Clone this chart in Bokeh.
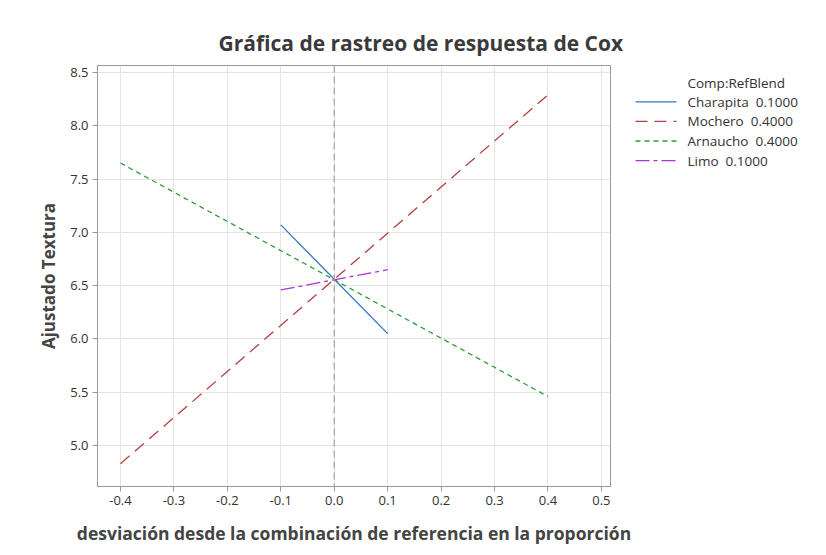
from bokeh.plotting import figure
from bokeh.models import FixedTicker, NumeralTickFormatter, Span, Range1d
from bokeh.layouts import row
from bokeh.core.properties import value
from bokeh.embed import file_html
from bokeh.resources import INLINE

# ---- data ----
x_wide = [-0.4, 0.0, 0.4]
x_narrow = [-0.1, 0.0, 0.1]
charapita = [7.07, 6.56, 6.05]
mochero = [4.83, 6.56, 8.29]
arnaucho = [7.65, 6.555, 5.46]
limo = [6.46, 6.555, 6.65]
legend_title = "Comp:RefBlend"
labels = ["Charapita  0.1000", "Mochero  0.4000", "Arnaucho  0.4000", "Limo  0.1000"]
x_ticks = [-0.4, -0.3, -0.2, -0.1, 0.0, 0.1, 0.2, 0.3, 0.4, 0.5]
y_ticks = [5.0, 5.5, 6.0, 6.5, 7.0, 7.5, 8.0, 8.5]

FONT = "Open Sans"
TXT = "#333333"
colors = ["#3478c6", "#b5403f", "#2e9e3a", "#a735d6"]
dashes = ["solid", "12 7", "5 4", "14 4 4 4"]

H = 547
TOP, BOTTOM = 65, 60
p = figure(width=634, height=H, output_backend="svg", toolbar_location=None,
           x_range=Range1d(-0.443, 0.517), y_range=Range1d(4.616, 8.565),
           min_border_left=97, min_border_right=24, min_border_top=TOP,
           min_border_bottom=BOTTOM)
p.background_fill_color = "white"
p.border_fill_color = "white"
p.outline_line_color = "#9a9a9a"
p.outline_line_width = 1

p.title.text = "Gráfica de rastreo de respuesta de Cox"
p.title.align = "left"
p.title.offset = 121
p.title.text_font = FONT
p.title.text_font_size = "21px"
p.title.text_font_style = "bold"
p.title.text_color = "#3a3a3a"
p.title.standoff = 18

for ax in (p.xaxis[0], p.yaxis[0]):
    ax.axis_line_color = "#9a9a9a"
    ax.major_tick_line_color = "#9a9a9a"
    ax.major_tick_out = 5
    ax.major_tick_in = 0
    ax.minor_tick_line_color = None
    ax.major_label_text_font = FONT
    ax.major_label_text_font_size = "13px"
    ax.major_label_text_color = TXT
    ax.axis_label_text_font = FONT
    ax.axis_label_text_font_style = "bold"
    ax.axis_label_text_color = "#444444"
    ax.formatter = NumeralTickFormatter(format="0.0")

p.xaxis[0].axis_label_text_font_size = "17.5px"
p.yaxis[0].axis_label_text_font_size = "17px"
p.xaxis[0].ticker = FixedTicker(ticks=x_ticks)
p.yaxis[0].ticker = FixedTicker(ticks=y_ticks)
p.xaxis[0].axis_label = "desviación desde la combinación de referencia en la proporción"
p.yaxis[0].axis_label = "Ajustado Textura"
p.xaxis[0].major_label_standoff = 4
p.yaxis[0].major_label_standoff = 4
p.xaxis[0].axis_label_standoff = 13
p.yaxis[0].axis_label_standoff = 7

p.xgrid.ticker = FixedTicker(ticks=x_ticks)
p.ygrid.ticker = FixedTicker(ticks=y_ticks)
p.grid.grid_line_color = "#e4e4e4"
p.grid.grid_line_width = 1

p.add_layout(Span(location=0, dimension="height", line_color="#a0a0a0",
                  line_width=1.2, line_dash="7 4"))

series = [(x_narrow, charapita), (x_wide, mochero), (x_wide, arnaucho), (x_narrow, limo)]
for (xs, ys), c, d in zip(series, colors, dashes):
    p.line(xs, ys, line_color=c, line_width=1.3, line_dash=d)

# ---- legend panel (separate canvas to the right; its frame aligns with p's) ----
LW = 818 - 634
lg = figure(width=LW, height=H, output_backend="svg", toolbar_location=None,
            x_range=Range1d(0, LW), y_range=Range1d(H - BOTTOM, TOP),
            min_border_left=0, min_border_right=0, min_border_top=TOP,
            min_border_bottom=BOTTOM, outline_line_color=None)
lg.axis.visible = False
lg.grid.visible = False
lg.background_fill_color = "white"
lg.border_fill_color = "white"

x0, gw, standoff = 1, 41, 11
y_title, y_first, row_h = 82.5, 101.5, 19.6
lg.text([x0 + gw + standoff], [y_title], text=[legend_title],
        text_font=value(FONT), text_font_size="13.5px", text_color=TXT,
        text_baseline="middle")
for i, (lab, c, d) in enumerate(zip(labels, colors, dashes)):
    yy = y_first + i * row_h
    lg.line([x0, x0 + gw], [yy, yy], line_color=c, line_width=1.3, line_dash=d)
    lg.text([x0 + gw + standoff], [yy], text=[lab.replace("  ", " \u00a0")],
            text_font=value(FONT), text_font_size="13.5px", text_color=TXT,
            text_baseline="middle")

layout = row(p, lg, spacing=0)
open("out.html", "w").write(file_html(layout, INLINE))
